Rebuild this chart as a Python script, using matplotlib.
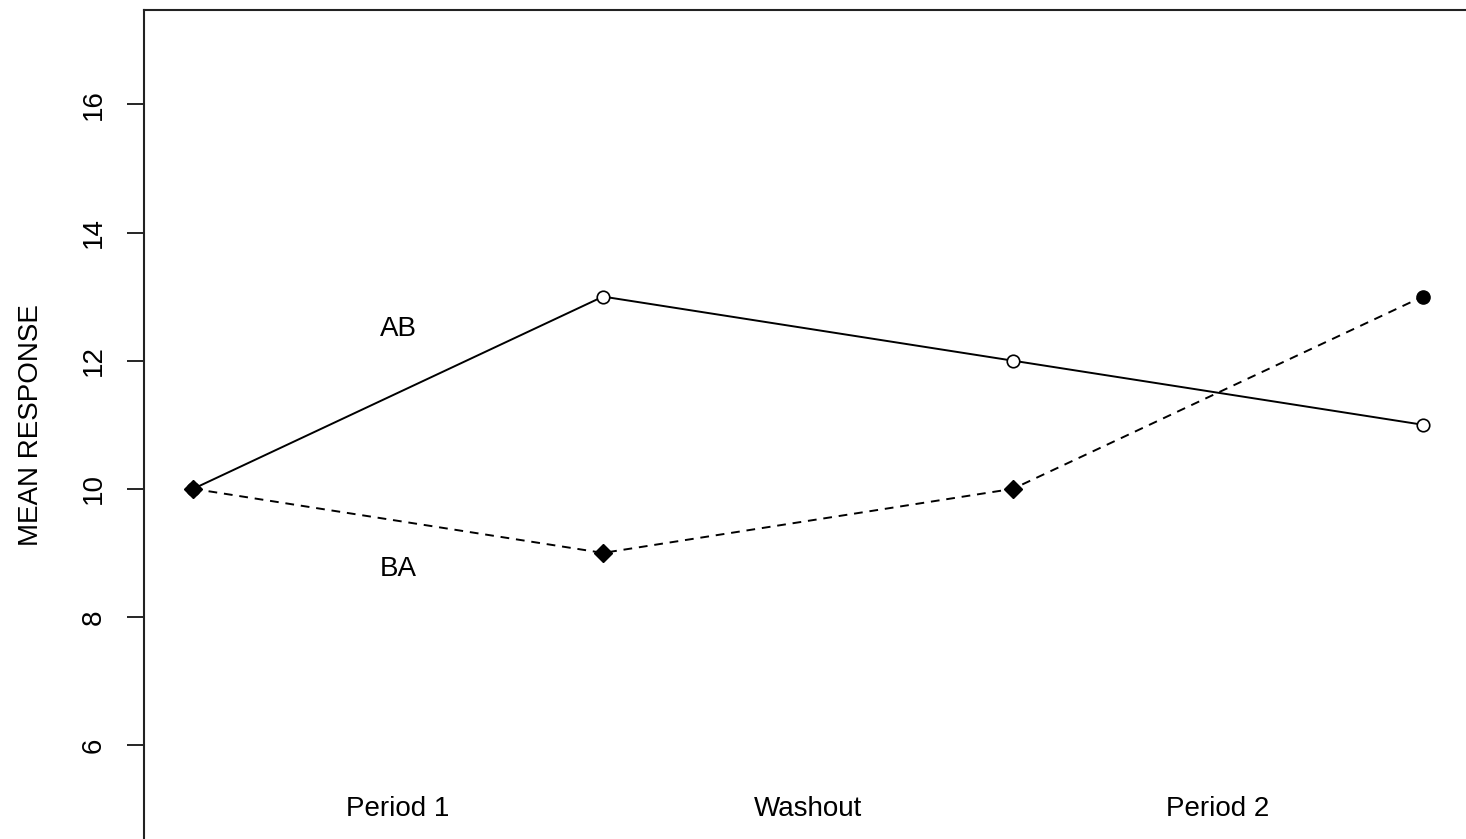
import matplotlib
matplotlib.use("Agg")
import matplotlib.pyplot as plt

plt.rcParams['font.family'] = ['Liberation Sans', 'DejaVu Sans']

# Mean response per occasion for each treatment sequence
occasion = [1, 2, 3, 4]
ab_means = [10, 13, 12, 11]
ba_means = [10, 9, 10, 13]
ba_markers = ['D', 'D', 'D', 'o']

phase_labels = ['Period 1', 'Washout', 'Period 2']
phase_pos = [1.5, 2.5, 3.5]
phase_y = 5.0

seq_labels = ['AB', 'BA']
seq_label_pos = [(1.5, 12.5), (1.5, 8.75)]

yticks = [6, 8, 10, 12, 14, 16]

fig = plt.figure(figsize=(14.66, 8.39), dpi=100)
ax = fig.add_axes([144 / 1466, -1 / 839, (1472 - 144) / 1466, (840 - 9.5) / 839])

# AB sequence: solid line, open circles
ax.plot(occasion, ab_means, color='black', lw=1.4, linestyle='-', zorder=2)
ax.plot(occasion, ab_means, linestyle='none', marker='o', ms=9,
        mfc='white', mec='black', mew=1.2, zorder=3)

# BA sequence: dashed line, filled markers
ax.plot(occasion, ba_means, color='black', lw=1.4, linestyle=(0, (4.5, 3.5)), zorder=2)
for x, y, m in zip(occasion, ba_means, ba_markers):
    ax.plot([x], [y], linestyle='none', marker=m, ms=9.5,
            mfc='black', mec='black', zorder=4)

for lab, (x, y) in zip(seq_labels, seq_label_pos):
    ax.text(x, y, lab, ha='center', va='center', fontsize=20)

for lab, x in zip(phase_labels, phase_pos):
    ax.text(x, phase_y, lab, ha='center', va='center', fontsize=20)

ax.set_xlim(0.88, 4.12)
ax.set_ylim(4.52, 17.48)
ax.set_xticks([])
ax.set_yticks(yticks)
ax.set_yticklabels([str(t) for t in yticks], rotation=90, va='center', fontsize=20)
ax.tick_params(axis='y', length=12, width=1.2, pad=15)
ax.set_ylabel('MEAN RESPONSE', fontsize=20, labelpad=26)

for s in ax.spines.values():
    s.set_linewidth(1.5)
    s.set_color('#222222')
ax.spines['bottom'].set_visible(False)

fig.savefig('out.png', dpi=100)
